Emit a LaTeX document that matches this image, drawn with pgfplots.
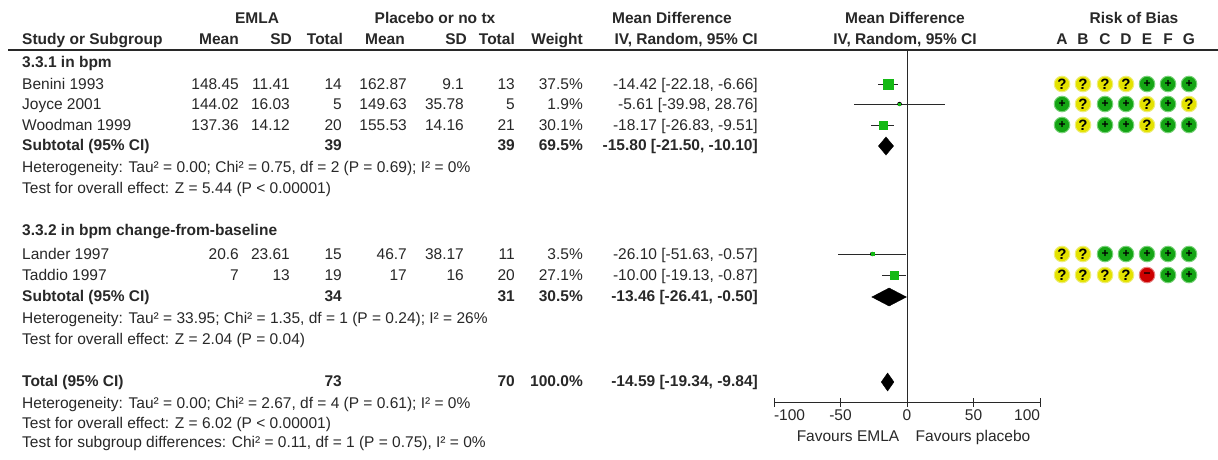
\documentclass[border=0pt]{standalone}
\usepackage{fontspec}
\setmainfont{Liberation Sans}
\usepackage{pgfplots}
\usepackage{pgfplotstable}
\pgfplotsset{compat=1.18}

\definecolor{txt}{RGB}{40,40,40}
\definecolor{sqgreen}{RGB}{20,185,20}
\definecolor{robyellow}{RGB}{228,226,0}
\definecolor{robyellowhalo}{RGB}{238,238,120}
\definecolor{robgreen}{RGB}{20,165,20}
\definecolor{robgreenhalo}{RGB}{120,210,120}
\definecolor{robred}{RGB}{205,0,0}
\definecolor{robredhalo}{RGB}{230,130,130}

\newcommand{\tf}{\fontsize{15.5}{18}\selectfont}
% y = row centre in pixels, counted from the top
\newcommand{\cellL}[3]{\node[anchor=base west, yshift=-5.5pt, font=\tf, text=txt, inner sep=0pt] at (axis cs:#1,#2) {#3};}
\newcommand{\cellR}[3]{\node[anchor=base east, yshift=-5.5pt, font=\tf, text=txt, inner sep=0pt] at (axis cs:#1,#2) {#3};}
\newcommand{\cellC}[3]{\node[anchor=base, yshift=-5.5pt, font=\tf, text=txt, inner sep=0pt] at (axis cs:#1,#2) {#3};}

% studies: row, mean difference, 95% CI, half size of the square
\pgfplotstableread{
y    md      lo      hi     ms
84   -14.42  -22.18  -6.66  5.0
104  -5.61   -39.98  28.76  1.0
125  -18.17  -26.83  -9.51  4.0
254  -26.10  -51.63  -0.57  1.5
275  -10.00  -19.13  -0.87  4.0
}\studies

\begin{document}
\begin{tikzpicture}
\fill[white] (0,0) rectangle (1218pt,459pt);

\begin{axis}[
    at={(0pt,0pt)}, anchor=south west,
    scale only axis, width=1218pt, height=459pt,
    xmin=0, xmax=1218, ymin=0, ymax=459, y dir=reverse,
    axis lines=none, ticks=none, clip=false,
]
    % header
    \cellC{257}{18}{\bfseries EMLA}
    \cellC{435}{18}{\bfseries Placebo or no tx}
    \cellC{672}{18}{\bfseries Mean Difference}
    \cellC{905}{18}{\bfseries Mean Difference}
    \cellC{1134}{18}{\bfseries Risk of Bias}
    \cellL{22}{39}{\bfseries Study or Subgroup}
    \cellR{239}{39}{\bfseries Mean}
    \cellR{292}{39}{\bfseries SD}
    \cellR{343}{39}{\bfseries Total}
    \cellR{405}{39}{\bfseries Mean}
    \cellR{467}{39}{\bfseries SD}
    \cellR{515}{39}{\bfseries Total}
    \cellR{583}{39}{\bfseries Weight}
    \cellR{758}{39}{\bfseries IV, Random, 95\% CI}
    \cellC{905}{39}{\bfseries IV, Random, 95\% CI}
    \cellC{1062}{39}{\bfseries A}
    \cellC{1083}{39}{\bfseries B}
    \cellC{1105}{39}{\bfseries C}
    \cellC{1126}{39}{\bfseries D}
    \cellC{1147}{39}{\bfseries E}
    \cellC{1168}{39}{\bfseries F}
    \cellC{1189}{39}{\bfseries G}
    \draw[txt, line width=1.5pt] (axis cs:8,50) -- (axis cs:1218,50);

    % subgroup 3.3.1
    \cellL{22}{62}{\bfseries 3.3.1 in bpm}
    \cellL{22}{84}{Benini 1993}
    \cellR{239}{84}{148.45}\cellR{290}{84}{11.41}\cellR{342}{84}{14}
    \cellR{407}{84}{162.87}\cellR{464}{84}{9.1}\cellR{515}{84}{13}
    \cellR{583}{84}{37.5\%}\cellR{758}{84}{-14.42 [-22.18, -6.66]}
    \cellL{22}{104}{Joyce 2001}
    \cellR{239}{104}{144.02}\cellR{290}{104}{16.03}\cellR{342}{104}{5}
    \cellR{407}{104}{149.63}\cellR{464}{104}{35.78}\cellR{515}{104}{5}
    \cellR{583}{104}{1.9\%}\cellR{758}{104}{-5.61 [-39.98, 28.76]}
    \cellL{22}{125}{Woodman 1999}
    \cellR{239}{125}{137.36}\cellR{290}{125}{14.12}\cellR{342}{125}{20}
    \cellR{407}{125}{155.53}\cellR{464}{125}{14.16}\cellR{515}{125}{21}
    \cellR{583}{125}{30.1\%}\cellR{758}{125}{-18.17 [-26.83, -9.51]}
    \cellL{22}{145}{\bfseries Subtotal (95\% CI)}
    \cellR{342}{145}{\bfseries 39}\cellR{515}{145}{\bfseries 39}
    \cellR{583}{145}{\bfseries 69.5\%}\cellR{758}{145}{\bfseries -15.80 [-21.50, -10.10]}
    \cellL{22}{167}{Heterogeneity: Tau² = 0.00; Chi² = 0.75, df = 2 (P = 0.69); I² = 0\%}
    \cellL{22}{188}{Test for overall effect: Z = 5.44 (P < 0.00001)}

    % subgroup 3.3.2
    \cellL{22}{230}{\bfseries 3.3.2 in bpm change-from-baseline}
    \cellL{22}{254}{Lander 1997}
    \cellR{239}{254}{20.6}\cellR{290}{254}{23.61}\cellR{342}{254}{15}
    \cellR{407}{254}{46.7}\cellR{464}{254}{38.17}\cellR{515}{254}{11}
    \cellR{583}{254}{3.5\%}\cellR{758}{254}{-26.10 [-51.63, -0.57]}
    \cellL{22}{275}{Taddio 1997}
    \cellR{239}{275}{7}\cellR{290}{275}{13}\cellR{342}{275}{19}
    \cellR{407}{275}{17}\cellR{464}{275}{16}\cellR{515}{275}{20}
    \cellR{583}{275}{27.1\%}\cellR{758}{275}{-10.00 [-19.13, -0.87]}
    \cellL{22}{296}{\bfseries Subtotal (95\% CI)}
    \cellR{342}{296}{\bfseries 34}\cellR{515}{296}{\bfseries 31}
    \cellR{583}{296}{\bfseries 30.5\%}\cellR{758}{296}{\bfseries -13.46 [-26.41, -0.50]}
    \cellL{22}{318}{Heterogeneity: Tau² = 33.95; Chi² = 1.35, df = 1 (P = 0.24); I² = 26\%}
    \cellL{22}{339}{Test for overall effect: Z = 2.04 (P = 0.04)}

    % total
    \cellL{22}{381}{\bfseries Total (95\% CI)}
    \cellR{342}{381}{\bfseries 73}\cellR{515}{381}{\bfseries 70}
    \cellR{583}{381}{\bfseries 100.0\%}\cellR{758}{381}{\bfseries -14.59 [-19.34, -9.84]}
    \cellL{22}{403}{Heterogeneity: Tau² = 0.00; Chi² = 2.67, df = 4 (P = 0.61); I² = 0\%}
    \cellL{22}{423}{Test for overall effect: Z = 6.02 (P < 0.00001)}
    \cellL{22}{442}{Test for subgroup differences: Chi² = 0.11, df = 1 (P = 0.75), I² = 0\%}

    \cellC{848}{436}{Favours EMLA}
    \cellC{973}{436}{Favours placebo}

    % risk of bias: ? unclear, + low, - high
    \addplot[only marks, mark=*, mark size=7.8pt,
        mark options={fill=robyellow, draw=robyellowhalo, line width=1pt},
        nodes near coords={\bfseries ?},
        every node near coord/.append style={anchor=center, text=black,
            font=\fontsize{15}{15}\selectfont}]
        coordinates {
        (1062,84) (1083,84) (1105,84) (1126,84)
        (1083,104) (1147,104) (1189,104)
        (1083,125) (1147,125)
        (1062,254) (1083,254)
        (1062,275) (1083,275) (1105,275) (1126,275)
        };
    \addplot[only marks, mark=*, mark size=7.8pt,
        mark options={fill=robgreen, draw=robgreenhalo, line width=1pt},
        nodes near coords={\bfseries +},
        every node near coord/.append style={anchor=center, text=black,
            font=\fontsize{12}{12}\selectfont}]
        coordinates {
        (1147,84) (1168,84) (1189,84)
        (1062,104) (1105,104) (1126,104) (1168,104)
        (1062,125) (1105,125) (1126,125) (1168,125) (1189,125)
        (1105,254) (1126,254) (1147,254) (1168,254) (1189,254)
        (1168,275) (1189,275)
        };
    \addplot[only marks, mark=*, mark size=7.8pt,
        mark options={fill=robred, draw=robredhalo, line width=1pt},
        nodes near coords={\bfseries −},
        every node near coord/.append style={anchor=center, text=black,
            font=\fontsize{12}{12}\selectfont}]
        coordinates {(1147,275)};
\end{axis}

% forest plot: -100 at x=774 px, 100 at x=1040 px; rows 50 to 402 px
\begin{axis}[
    at={(774pt,57pt)}, anchor=south west,
    scale only axis, width=266pt, height=352pt,
    xmin=-100, xmax=100, ymin=50, ymax=402, y dir=reverse,
    axis x line=bottom, axis y line=none,
    x axis line style={-, txt, line width=1pt},
    xtick={-100,-50,0,50,100},
    xticklabels={\makebox[0pt][l]{-100},-50,0,50,\makebox[0pt][r]{100}},
    xtick align=center, major tick length=9pt,
    every tick/.style={txt, line width=1pt},
    xticklabel style={text=txt, font=\tf},
    clip=false,
]
    \addplot[txt, line width=1pt] coordinates {(0,50) (0,402)};

    \addplot[only marks, mark=none,
        error bars/.cd, x dir=both, x explicit, error mark=none,
        error bar style={txt, line width=1pt}]
        table[x=md, y=y,
            x error plus expr=\thisrow{hi}-\thisrow{md},
            x error minus expr=\thisrow{md}-\thisrow{lo}] {\studies};

    \addplot[scatter, only marks, mark=square*,
        scatter/use mapped color={draw=sqgreen, fill=sqgreen},
        visualization depends on={\thisrow{ms} \as \msz},
        scatter/@pre marker code/.append style={/tikz/mark size=\msz}]
        table[x=md, y=y] {\studies};

    % pooled estimates
    \addplot[fill=black, draw=black] coordinates
        {(-21.50,146) (-15.80,137) (-10.10,146) (-15.80,155)} -- cycle;
    \addplot[fill=black, draw=black] coordinates
        {(-26.41,297) (-13.46,288) (-0.50,297) (-13.46,306)} -- cycle;
    \addplot[fill=black, draw=black] coordinates
        {(-19.34,382) (-14.59,373) (-9.84,382) (-14.59,391)} -- cycle;
\end{axis}

\pgfresetboundingbox
\useasboundingbox (0,0) rectangle (1218pt,459pt);
\end{tikzpicture}
\end{document}
